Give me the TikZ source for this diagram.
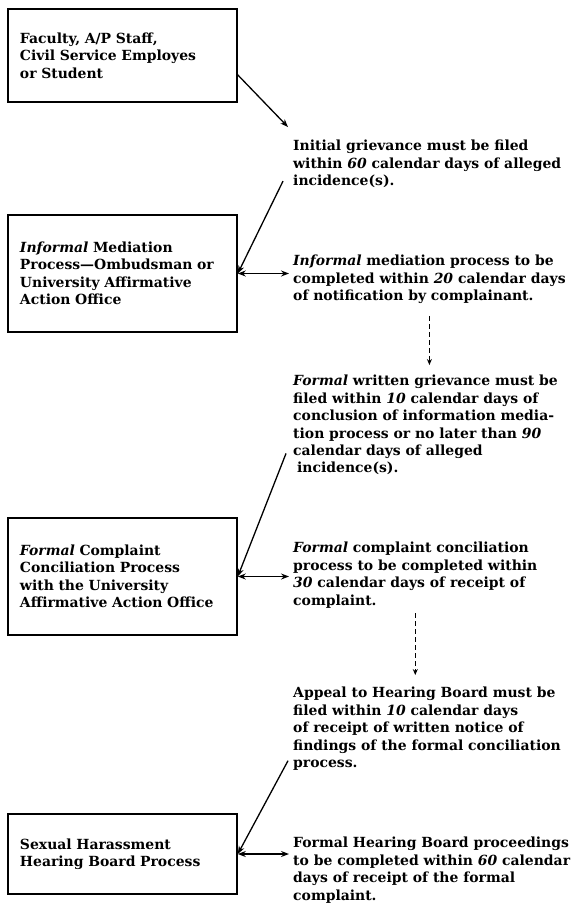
\documentclass[tikz,border=0pt]{standalone}
\usepackage{fontspec}
\setmainfont{DejaVu Serif}
\usetikzlibrary{arrows.meta,positioning,calc}

\begin{document}
\begin{tikzpicture}[
	x=1bp,y=-1bp,
	font=\fontsize{14}{17.5}\selectfont\bfseries,
	stage/.style={draw,line width=1.6pt,rectangle,minimum width=229bp,text width=205bp,inner xsep=12bp,align=left},
	rule/.style={anchor=north west,inner sep=0pt,align=left},
	toward/.style={line width=1.3pt,-{Stealth[length=8pt,width=6pt]}},
	twoway/.style={line width=1.3pt,{Stealth[length=8pt,width=6pt]}-{Stealth[length=8pt,width=6pt]},shorten >=4pt},
	follow/.style={line width=1.1pt,dash pattern=on 5pt off 3pt,-{Stealth[length=6pt,width=5pt]}}
	]
	\useasboundingbox (0,0) rectangle (578,905);
	
	% Stufen links
	\node[stage,minimum height=93bp] (source) at (122.5,55.5) {Faculty, A/P Staff,\\Civil Service Employes\\or Student};
	\node[stage,minimum height=117bp] (mediation) at (122.5,273.5) {\textit{Informal} Mediation\\Process---Ombudsman or\\University Affirmative\\Action Office};
	\node[stage,minimum height=117bp] (conciliation) at (122.5,576.5) {\textit{Formal} Complaint\\Conciliation Process\\with the University\\Affirmative Action Office};
	\node[stage,minimum height=80bp] (hearing) at (122.5,854) {Sexual Harassment\\Hearing Board Process};
	
	% Fristen rechts
	\node[rule] (filing) at (293,140) {Initial grievance must be filed\\within \textit{60} calendar days of alleged\\incidence(s).};
	\node[rule] (informal) at (293,255) {\textit{Informal} mediation process to be\\completed within \textit{20} calendar days\\of notification by complainant.};
	\node[rule] (written) at (293,375) {\textit{Formal} written grievance must be\\filed within \textit{10} calendar days of\\conclusion of information media-\\tion process or no later than \textit{90}\\calendar days of alleged\\\hspace*{4pt}incidence(s).};
	\node[rule] (formal) at (293,542) {\textit{Formal} complaint conciliation\\process to be completed within\\\textit{30} calendar days of receipt of\\complaint.};
	\node[rule] (appeal) at (293,687) {Appeal to Hearing Board must be\\filed within \textit{10} calendar days\\of receipt of written notice of\\findings of the formal conciliation\\process.};
	\node[rule] (board) at (293,837) {Formal Hearing Board proceedings\\to be completed within \textit{60} calendar\\days of receipt of the formal\\complaint.};
	
	% Verbindungen
	\draw[toward] ([yshift=-19.5pt]source.east) -- ([xshift=-5pt,yshift=13pt]filing.north west);
	\draw[toward] ([xshift=-10pt,yshift=7pt]filing.south west) -- (mediation.east);
	\draw[twoway] (mediation.east) -- (mediation.east -| informal.west);
	\draw[follow,shorten <=12pt,shorten >=10pt] (informal.south) -- (informal.south |- written.north);
	\draw[toward] ([xshift=-7pt,yshift=22pt]written.south west) -- (conciliation.east);
	\draw[twoway] (conciliation.east) -- (conciliation.east -| formal.west);
	\draw[follow,shorten <=5pt,shorten >=12pt] (formal.south) -- (formal.south |- appeal.north);
	\draw[toward] ([xshift=-5pt,yshift=10pt]appeal.south west) -- (hearing.east);
	\draw[twoway] (hearing.east) -- (hearing.east -| board.west);
	
\end{tikzpicture}
\end{document}
